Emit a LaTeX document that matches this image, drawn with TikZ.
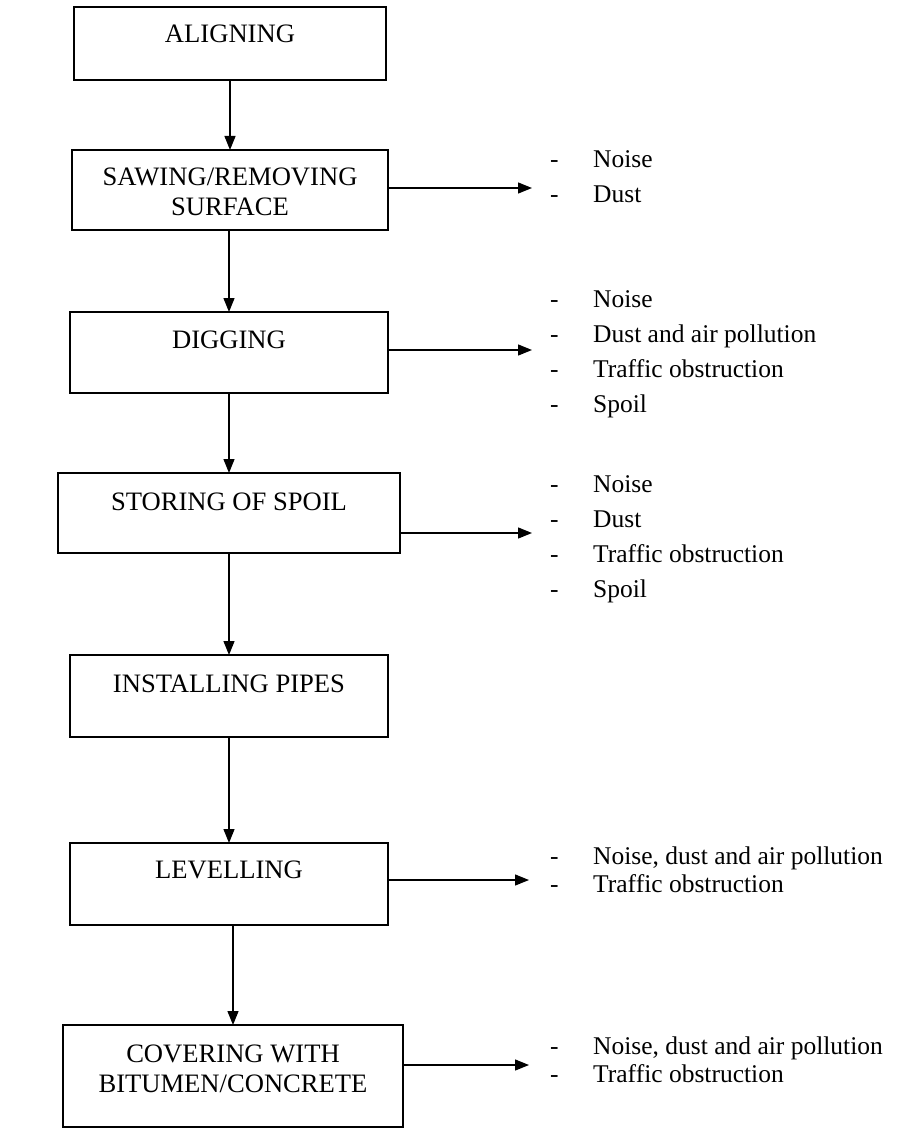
\documentclass[tikz,border=0pt]{standalone}
\usepackage{fontspec}
\setmainfont{Liberation Serif}
\usetikzlibrary{arrows.meta}
\begin{document}
\begin{tikzpicture}[x=1pt,y=-1pt,
  box/.style={draw, line width=1.3pt, inner sep=0pt, outer sep=0pt},
  boxtext/.style={anchor=base, inner sep=0pt, align=center,
    font=\fontsize{26.6}{30}\selectfont},
  flow/.style={line width=1.3pt, -{Triangle[length=14pt,width=11pt]}},
  effects/.style={anchor=base west, inner sep=0pt},
  wide/.style={font=\fontsize{25.5}{35}\selectfont},
  tight/.style={font=\fontsize{25.5}{28}\selectfont}
]
\useasboundingbox (0,0) rectangle (911,1129);

% process boxes
\node[box, minimum width=312, minimum height=73] (b1) at (230,43.5) {};
\node[box, minimum width=316, minimum height=80] (b2) at (230,190) {};
\node[box, minimum width=318, minimum height=81] (b3) at (229,352.5) {};
\node[box, minimum width=342, minimum height=80] (b4) at (229,513) {};
\node[box, minimum width=318, minimum height=82] (b5) at (229,696) {};
\node[box, minimum width=318, minimum height=82] (b6) at (229,884) {};
\node[box, minimum width=340, minimum height=102] (b7) at (233,1076) {};

% box labels (base = baseline of the last line)
\node[boxtext] (t1) at (230,43) {ALIGNING};
\node[boxtext] (t2) at (230,215) {SAWING/REMOVING\\SURFACE};
\node[boxtext] (t3) at (229,348) {DIGGING};
\node[boxtext] (t4) at (229,510) {STORING OF SPOIL};
\node[boxtext] (t5) at (229,692) {INSTALLING PIPES};
\node[boxtext] (t6) at (229,878) {LEVELLING};
\node[boxtext] (t7) at (233,1092) {COVERING WITH\\BITUMEN/CONCRETE};

% main flow
\draw[flow] (b1.south) -- (b2.north);
\draw[flow] (b2.south -| b3.north) -- (b3.north);
\draw[flow] (b3.south) -- (b4.north);
\draw[flow] (b4.south) -- (b5.north);
\draw[flow] (b5.south) -- (b6.north);
\draw[flow] (b6.south -| b7.north) -- (b7.north);

% side effects
\coordinate (e2) at (532,188);
\coordinate (e3) at (532,350);
\coordinate (e4) at (532,533);
\coordinate (e6) at (529,880);
\coordinate (e7) at (529,1065);
\draw[flow] (b2.east |- e2) -- (e2);
\draw[flow] (b3.east |- e3) -- (e3);
\draw[flow] (b4.east |- e4) -- (e4);
\draw[flow] (b6.east |- e6) -- (e6);
\draw[flow] (b7.east |- e7) -- (e7);

\node[effects, wide] (l2) at (550,167) {\begin{tabular}[t]{@{}p{43pt}@{}l@{}}
-&Noise\\-&Dust\end{tabular}};
\node[effects, wide] (l3) at (550,307) {\begin{tabular}[t]{@{}p{43pt}@{}l@{}}
-&Noise\\-&Dust and air pollution\\-&Traffic obstruction\\-&Spoil\end{tabular}};
\node[effects, wide] (l4) at (550,492) {\begin{tabular}[t]{@{}p{43pt}@{}l@{}}
-&Noise\\-&Dust\\-&Traffic obstruction\\-&Spoil\end{tabular}};
\node[effects, tight] (l6) at (550,864) {\begin{tabular}[t]{@{}p{43pt}@{}l@{}}
-&Noise, dust and air pollution\\-&Traffic obstruction\end{tabular}};
\node[effects, tight] (l7) at (550,1054) {\begin{tabular}[t]{@{}p{43pt}@{}l@{}}
-&Noise, dust and air pollution\\-&Traffic obstruction\end{tabular}};
\end{tikzpicture}
\end{document}
